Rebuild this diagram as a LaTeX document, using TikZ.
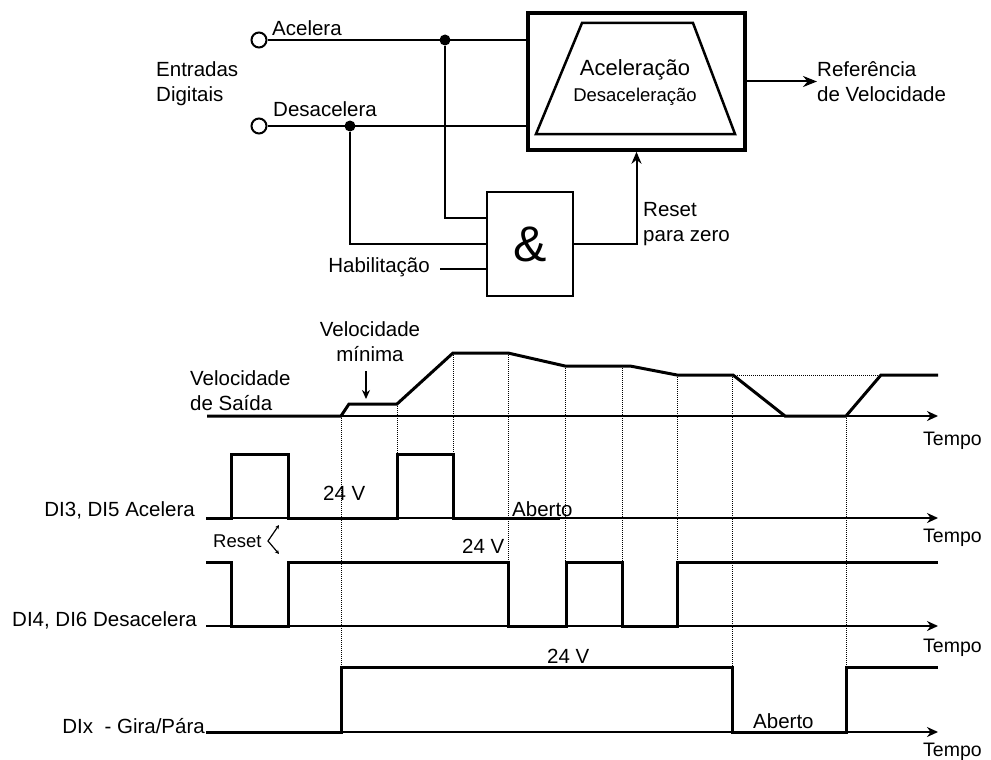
\documentclass[tikz,border=0pt]{standalone}
\usepackage{fontspec}
\setmainfont{Liberation Sans}
\usetikzlibrary{arrows.meta,positioning,calc}

\begin{document}
\begin{tikzpicture}[x=1pt, y=-1pt,
        wire/.style={line width=2pt},
        sig/.style={line width=3pt},
        grid/.style={densely dotted, line width=1pt},
        axis/.style={line width=2pt, -{Stealth[length=11pt, width=10pt]}},
        lbl/.style={font=\fontsize{20.5}{25}\selectfont, align=left, inner sep=0pt},
        tempo/.style={font=\fontsize{19.5}{23}\selectfont, inner sep=0pt, anchor=base west},
        term/.style={circle, draw, line width=2pt, minimum size=15pt, inner sep=0pt},
        dot/.style={circle, fill, minimum size=11pt, inner sep=0pt}
    ]
        \useasboundingbox (0,0) rectangle (991,760);

        % bloco de rampa
        \node[draw, line width=3.5pt, minimum width=217pt, minimum height=137pt] (ramp) at (636.5,81.5) {};
        \draw[line width=2.5pt] (582,23) -- (693,23) -- (735,134) -- (536,134) -- cycle;
        \node[font=\fontsize{22}{26}\selectfont, inner sep=0pt, anchor=base] (acc) at (635,76) {Aceleração};
        \node[font=\fontsize{18.5}{22}\selectfont, inner sep=0pt, anchor=base] (dec) at (635,101) {Desaceleração};

        % entradas
        \node[term] (tac) at (259,40) {};
        \node[term] (tde) at (259,126) {};
        \node[lbl, anchor=base west] (lac) at (272,36) {Acelera};
        \node[lbl, anchor=base west] (lde) at (273,117) {Desacelera};
        \node[lbl, anchor=north west] (ent) at (156,61) {Entradas\\Digitais};
        \node[dot] (jac) at (445,40) {};
        \node[dot] (jde) at (350,126) {};

        \draw[wire] (tac.east) -- (tac.east -| ramp.west);
        \draw[wire] (tde.east) -- (tde.east -| ramp.west);

        % porta E
        \node[draw, line width=2.5pt, minimum width=86pt, minimum height=104pt,
              font=\fontsize{50}{50}\selectfont] (gate) at (530,244) {\&};
        \coordinate (in1) at ($(gate.west)+(0,-26)$);
        \coordinate (in3) at ($(gate.west)+(0,25)$);
        \node[lbl, anchor=base east] (hab) at (430,272) {Habilitação};

        \draw[wire] (jac) |- (in1);
        \draw[wire] (jde) |- (gate.west);
        \draw[wire] ([xshift=10pt]hab.east |- in3) -- (in3);
        \draw[wire, -{Stealth[length=12pt, width=10pt]}] (gate.east) -| (ramp.south);
        \node[lbl, anchor=north west] (rst) at (643,202) {Reset\\para zero};

        \node[lbl, anchor=north west] (refv) at (817,61) {Referência\\de Velocidade};
        \draw[wire, -{Stealth[length=14pt, width=11pt]}] (ramp.east) -- (ramp.east -| refv.west);

        % linhas de tempo
        \foreach \x/\a/\b in {341/416/667, 397/404/454, 453/353/454, 508/353/562, 565/366/562,
                              622/366/562, 677/375/562, 732/375/667, 846/416/667}
            \draw[grid] (\x,\a) -- (\x,\b);
        \draw[grid] (733,375) -- (881,375);

        % velocidade de saida
        \node[lbl, anchor=north west] (vsai) at (190,370) {Velocidade\\de Saída};
        \node[lbl, align=center, anchor=north] (vmin) at (370,321) {Velocidade\\mínima};
        \coordinate (vmin0) at (366,399);
        \draw[wire, -{Stealth[length=9pt, width=8pt]}] ([yshift=-10pt]vmin.south -| vmin0) -- (vmin0);
        \draw[axis] (207,416) -- (938,416);
        \draw[sig] (207,416) -- (341,416) -- (349,404) -- (397,404) -- (453,353) -- (508,353)
            -- (565,366) -- (630,366) -- (677,375) -- (733,375) -- (785,416) -- (846,416)
            -- (881,375) -- (938,375);
        \node[tempo] (t1) at (923,445) {Tempo};

        % DI3, DI5
        \node[lbl, anchor=base east] (di3) at (195,516) {DI3, DI5 Acelera};
        \draw[axis] (206,518) -- (938,518);
        \draw[sig] (206,518) -- (231,518) -- (231,454) -- (288,454) -- (288,518) -- (397,518)
            -- (397,454) -- (453,454) -- (453,518) -- (560,518);
        \node[lbl, anchor=base west] (v1) at (323,500) {24 V};
        \node[lbl, anchor=base west] (ab1) at (512,516) {Aberto};
        \node[tempo] (t2) at (923,542) {Tempo};

        % reset
        \node[font=\fontsize{18.5}{22}\selectfont, inner sep=0pt, anchor=base west] (rs) at (213,547) {Reset};
        \draw[line width=1.2pt, {Stealth[length=4pt, width=4pt]}-{Stealth[length=4pt, width=4pt]}]
            (279,525) -- (268,541) -- (279,554);

        % DI4, DI6
        \node[lbl, anchor=base east] (di4) at (197,626) {DI4, DI6 Desacelera};
        \draw[axis] (206,626) -- (938,626);
        \draw[sig] (206,562) -- (231,562) -- (231,626) -- (288,626) -- (288,562) -- (508,562)
            -- (508,626) -- (566,626) -- (566,562) -- (622,562) -- (622,626) -- (677,626)
            -- (677,562) -- (938,562);
        \node[lbl, anchor=base west] (v2) at (462,553) {24 V};
        \node[tempo] (t3) at (923,652) {Tempo};

        % DIx
        \node[lbl, anchor=base east] (dix) at (205,733) {DIx\ \ - Gira/Pára};
        \draw[axis] (206,732) -- (938,732);
        \draw[sig] (206,732) -- (341,732) -- (341,667) -- (732,667) -- (732,732) -- (846,732)
            -- (846,667) -- (938,667);
        \node[lbl, anchor=base west] (v3) at (547,663) {24 V};
        \node[lbl, anchor=base west] (ab2) at (753,728) {Aberto};
        \node[tempo] (t4) at (923,756) {Tempo};
    \end{tikzpicture}
\end{document}
